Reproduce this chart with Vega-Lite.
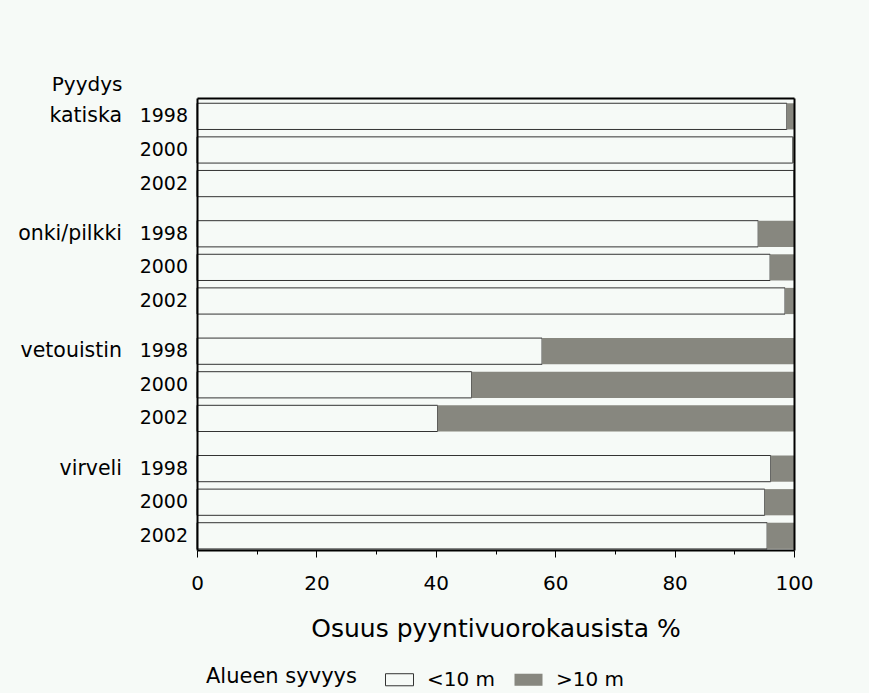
{
  "$schema": "https://vega.github.io/schema/vega-lite/v6.json",
  "autosize": "none",
  "width": 597,
  "height": 452,
  "padding": {"left": 197, "top": 98, "right": 75, "bottom": 143},
  "background": "#f6faf7",
  "config": {
    "font": "DejaVu Sans",
    "view": {"stroke": null},
    "axis": {"grid": false, "labelColor": "#000", "titleColor": "#000", "tickColor": "#000", "domainColor": "#000", "domainWidth": 2},
    "legend": {"labelColor": "#000", "titleColor": "#000"}
  },
  "data": {
    "values": [
      {"gear": "katiska", "year": "1998", "depth": "<10 m", "value": 98.8},
      {"gear": "katiska", "year": "1998", "depth": ">10 m", "value": 1.2},
      {"gear": "katiska", "year": "2000", "depth": "<10 m", "value": 99.8},
      {"gear": "katiska", "year": "2000", "depth": ">10 m", "value": 0.2},
      {"gear": "katiska", "year": "2002", "depth": "<10 m", "value": 100},
      {"gear": "katiska", "year": "2002", "depth": ">10 m", "value": 0},
      {"gear": "onki/pilkki", "year": "1998", "depth": "<10 m", "value": 94.0},
      {"gear": "onki/pilkki", "year": "1998", "depth": ">10 m", "value": 6.0},
      {"gear": "onki/pilkki", "year": "2000", "depth": "<10 m", "value": 96.0},
      {"gear": "onki/pilkki", "year": "2000", "depth": ">10 m", "value": 4.0},
      {"gear": "onki/pilkki", "year": "2002", "depth": "<10 m", "value": 98.5},
      {"gear": "onki/pilkki", "year": "2002", "depth": ">10 m", "value": 1.5},
      {"gear": "vetouistin", "year": "1998", "depth": "<10 m", "value": 57.8},
      {"gear": "vetouistin", "year": "1998", "depth": ">10 m", "value": 42.2},
      {"gear": "vetouistin", "year": "2000", "depth": "<10 m", "value": 46.0},
      {"gear": "vetouistin", "year": "2000", "depth": ">10 m", "value": 54.0},
      {"gear": "vetouistin", "year": "2002", "depth": "<10 m", "value": 40.3},
      {"gear": "vetouistin", "year": "2002", "depth": ">10 m", "value": 59.7},
      {"gear": "virveli", "year": "1998", "depth": "<10 m", "value": 96.1},
      {"gear": "virveli", "year": "1998", "depth": ">10 m", "value": 3.9},
      {"gear": "virveli", "year": "2000", "depth": "<10 m", "value": 95.1},
      {"gear": "virveli", "year": "2000", "depth": ">10 m", "value": 4.9},
      {"gear": "virveli", "year": "2002", "depth": "<10 m", "value": 95.5},
      {"gear": "virveli", "year": "2002", "depth": ">10 m", "value": 4.5}
    ]
  },
  "resolve": {"axis": {"x": "independent", "y": "independent"}},
  "layer": [
    {
      "mark": {"type": "bar", "strokeWidth": 1},
      "encoding": {
        "y": {
          "field": "gear", "type": "nominal",
          "sort": ["katiska", "onki/pilkki", "vetouistin", "virveli"],
          "scale": {"paddingInner": 0.2044, "paddingOuter": 0.027, "align": 0.83},
          "axis": {
            "labels": false, "ticks": false, "domain": true, "zindex": 2,
            "title": "Pyydys", "titleAngle": 0, "titleAlign": "right",
            "titleBaseline": "alphabetic", "titleX": -75, "titleY": -8,
            "titleFontSize": 20, "titleFontWeight": "normal", "titleFont": "DejaVu Sans"
          }
        },
        "yOffset": {
          "field": "year", "type": "nominal",
          "scale": {"paddingInner": 0.22, "paddingOuter": 0}
        },
        "x": {
          "field": "value", "type": "quantitative", "stack": "zero",
          "scale": {"domain": [0, 100], "nice": false},
          "axis": {
            "values": [0, 10, 20, 30, 40, 50, 60, 70, 80, 90, 100],
            "labelExpr": "datum.value % 20 === 0 ? datum.label : ''",
            "tickSize": {"condition": {"test": "datum.value % 20 !== 0", "value": 4}, "value": 7},
            "domain": true, "labelFlush": false, "zindex": 2,
            "labelFontSize": 20, "labelPadding": 16,
            "title": "Osuus pyyntivuorokausista %",
            "titleFontSize": 25, "titleFontWeight": "normal", "titlePadding": 23
          }
        },
        "fill": {
          "field": "depth", "type": "nominal", "title": "Alueen syvyys",
          "scale": {"domain": ["<10 m", ">10 m"], "range": ["#f6faf7", "#87877f"]},
          "legend": {
            "orient": "none", "direction": "horizontal", "titleOrient": "left",
            "legendX": 9, "legendY": 567,
            "symbolType": "M-1,-0.43H1V0.43H-1Z", "symbolSize": 784, "symbolStrokeWidth": 1,
            "labelFontSize": 20, "titleFontSize": 21, "titleFontWeight": "normal",
            "titlePadding": 28, "labelOffset": 13, "columnPadding": 16,
            "titleBaseline": "middle", "labelBaseline": "middle"
          }
        },
        "stroke": {
          "field": "depth", "type": "nominal", "title": "Alueen syvyys",
          "scale": {"domain": ["<10 m", ">10 m"], "range": ["#333333", "transparent"]}
        }
      }
    },
    {
      "transform": [{"filter": "datum.depth === '<10 m'"}],
      "mark": {"type": "text", "align": "right", "baseline": "middle", "dx": -9, "fontSize": 19, "font": "DejaVu Sans", "color": "#000"},
      "encoding": {
        "y": {
          "field": "gear", "type": "nominal", "sort": ["katiska", "onki/pilkki", "vetouistin", "virveli"],
          "axis": {"orient": "right", "labels": false, "ticks": false, "domain": true, "title": null, "zindex": 2}
        },
        "yOffset": {"field": "year", "type": "nominal"},
        "x": {
          "datum": 0, "type": "quantitative",
          "axis": {"orient": "top", "labels": false, "ticks": false, "domain": true, "title": null, "zindex": 2}
        },
        "text": {"field": "year"}
      }
    },
    {
      "transform": [{"filter": "datum.depth === '<10 m' && datum.year === '1998'"}],
      "mark": {"type": "text", "align": "right", "baseline": "middle", "dx": -75, "fontSize": 20.5, "font": "DejaVu Sans", "color": "#000"},
      "encoding": {
        "y": {"field": "gear", "type": "nominal", "sort": ["katiska", "onki/pilkki", "vetouistin", "virveli"], "axis": null},
        "yOffset": {"field": "year", "type": "nominal"},
        "x": {"datum": 0, "type": "quantitative", "axis": null},
        "text": {"field": "gear"}
      }
    }
  ]
}
